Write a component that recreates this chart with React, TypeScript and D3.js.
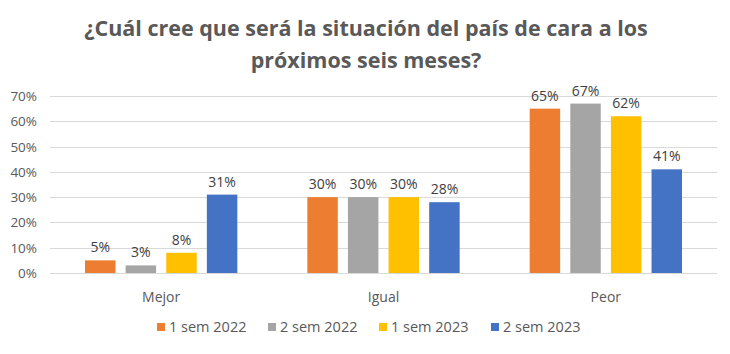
import React, { useEffect, useRef } from "react";
import * as d3 from "d3";

const categories = ["Mejor", "Igual", "Peor"];
const seriesNames = ["1 sem 2022", "2 sem 2022", "1 sem 2023", "2 sem 2023"];
const seriesColors = ["#ED7D31", "#A5A5A5", "#FFC000", "#4472C4"];
const values1s2022 = [5, 30, 65];
const values2s2022 = [3, 30, 67];
const values1s2023 = [8, 30, 62];
const values2s2023 = [31, 28, 41];
const yTicks = [0, 10, 20, 30, 40, 50, 60, 70];

const App = () => {
  const svgRef = useRef<SVGSVGElement>(null);

  useEffect(() => {
    const width = 730;
    const height = 354;
    const margin = { left: 50, right: 13, top: 96, bottom: 81 };
    const series = [values1s2022, values2s2022, values1s2023, values2s2023];
    const font = "'Open Sans', sans-serif";

    const svg = d3.select(svgRef.current);
    svg.selectAll("*").remove();
    svg.attr("width", width).attr("height", height);

    svg.append("rect").attr("width", width).attr("height", height).attr("fill", "#fff");

    const title = svg
      .append("text")
      .attr("text-anchor", "middle")
      .attr("fill", "#595959")
      .style("font-family", font)
      .style("font-size", "21.5px")
      .style("font-weight", "bold");
    title.append("tspan").attr("x", 366).attr("y", 36).text("¿Cuál cree que será la situación del país de cara a los");
    title.append("tspan").attr("x", 366).attr("y", 68).text("próximos seis meses?");

    const x0 = d3
      .scaleBand()
      .domain(categories)
      .range([margin.left, width - margin.right])
      .paddingInner(0)
      .paddingOuter(0);

    const groupPad = 35;
    const x1 = d3
      .scaleBand()
      .domain(seriesNames)
      .range([groupPad, x0.bandwidth() - groupPad])
      .paddingInner(0.25)
      .paddingOuter(0);

    const y = d3
      .scaleLinear()
      .domain([0, 70])
      .range([height - margin.bottom, margin.top]);

    svg
      .append("g")
      .selectAll("line")
      .data(yTicks)
      .join("line")
      .attr("x1", margin.left)
      .attr("x2", width - margin.right)
      .attr("y1", (d) => Math.round(y(d)) + 0.5)
      .attr("y2", (d) => Math.round(y(d)) + 0.5)
      .attr("stroke", "#d9d9d9")
      .attr("stroke-width", 1);

    svg
      .append("g")
      .selectAll("text")
      .data(yTicks)
      .join("text")
      .attr("x", 37)
      .attr("y", (d) => y(d) + 5)
      .attr("text-anchor", "end")
      .attr("fill", "#595959")
      .style("font-family", font)
      .style("font-size", "13.5px")
      .text((d) => d + "%");

    const groups = svg
      .append("g")
      .selectAll("g")
      .data(categories)
      .join("g")
      .attr("transform", (d) => `translate(${x0(d)},0)`);

    groups
      .selectAll("rect")
      .data((_, i) => series.map((s, j) => ({ name: seriesNames[j], value: s[i], color: seriesColors[j] })))
      .join("rect")
      .attr("x", (d) => x1(d.name)!)
      .attr("width", x1.bandwidth())
      .attr("y", (d) => y(d.value))
      .attr("height", (d) => y(0) - y(d.value))
      .attr("fill", (d) => d.color);

    groups
      .selectAll("text.lbl")
      .data((_, i) => series.map((s, j) => ({ name: seriesNames[j], value: s[i] })))
      .join("text")
      .attr("class", "lbl")
      .attr("x", (d) => x1(d.name)! + x1.bandwidth() / 2)
      .attr("y", (d) => y(d.value) - 8)
      .attr("text-anchor", "middle")
      .attr("fill", "#404040")
      .style("font-family", font)
      .style("font-size", "14px")
      .text((d) => d.value + "%");

    svg
      .append("g")
      .selectAll("text")
      .data(categories)
      .join("text")
      .attr("x", (d) => x0(d)! + x0.bandwidth() / 2)
      .attr("y", 302)
      .attr("text-anchor", "middle")
      .attr("fill", "#595959")
      .style("font-family", font)
      .style("font-size", "14px")
      .text((d) => d);

    const legendX = [157, 268, 379, 491];
    const legend = svg
      .append("g")
      .selectAll("g")
      .data(seriesNames)
      .join("g")
      .attr("transform", (_, i) => `translate(${legendX[i]},332)`);
    legend
      .append("rect")
      .attr("x", 0)
      .attr("y", -9)
      .attr("width", 8)
      .attr("height", 8)
      .attr("fill", (_, i) => seriesColors[i]);
    legend
      .append("text")
      .attr("x", 12)
      .attr("y", 0)
      .attr("fill", "#595959")
      .style("font-family", font)
      .style("font-size", "14.5px")
      .text((d) => d);
  }, []);

  return <svg ref={svgRef} style={{ display: "block", margin: -8 }}></svg>;
};

export default App;
